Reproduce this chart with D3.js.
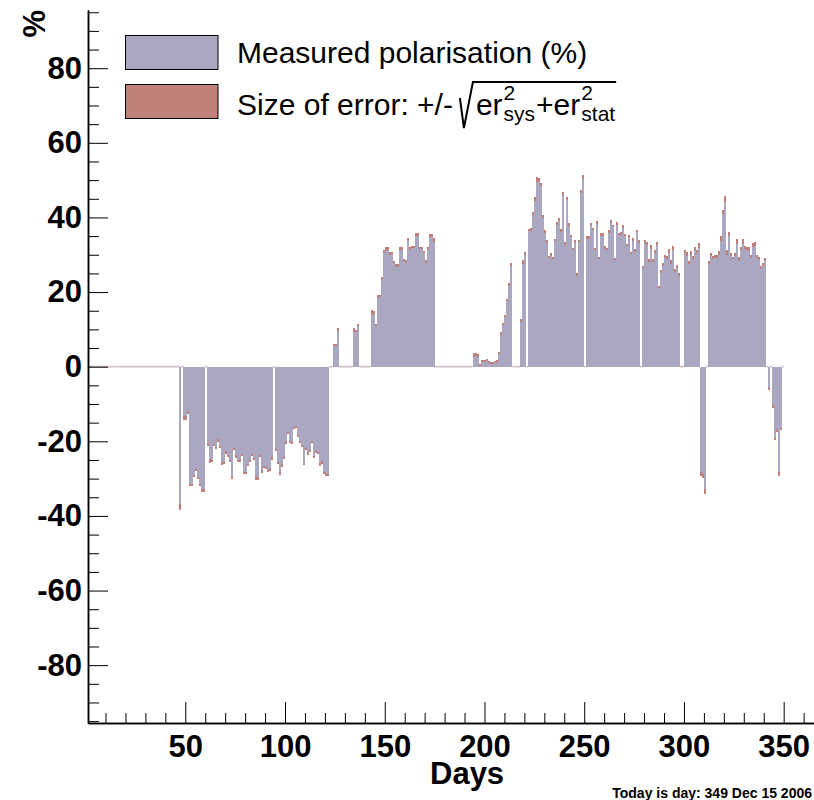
<!DOCTYPE html>
<html><head><meta charset="utf-8">
<script src="https://cdn.jsdelivr.net/npm/d3@7"></script>
<style>
body{margin:0;background:#fff}
svg{display:block}
text{font-family:"Liberation Sans",Arial,Helvetica,sans-serif}
</style>
</head><body>
<svg id="c" width="814" height="800"></svg>
<script>
// ---------- data (one value per day, starting at day 1) ----------
const firstDay = 1;
const polarisation = [
0,0,0,0,0,0,0,0,0,0,0,0,0,0,0,0,0,0,0,0,0,0,0,0,0,0,0,0,0,0,0,0,0,0,0,0,0,0,0,0,0,0,0,0,0,0,
-37.6,0,
-13.7,-13.7,-12.3,-31.7,-31.7,-29.3,-27.6,-29.8,-31.7,-33.3,-33.3,
0,
-20.9,-25.3,-25.3,-21,-21.8,-19.8,-21.5,-25.9,-25.9,-23,-23.9,-25.2,-29.7,-22,-24.1,-25.2,-25.2,-23.7,-28.4,-28.4,-26.3,-25.2,-23.6,-24.7,-30,-30,-23.9,-28.1,-26.9,-27.1,-28,-27.5,-24.6,
0,
-22.3,-25.9,-28.6,-26.5,-24.5,-20.3,-17.8,-20.1,-20.5,-16.5,-16.1,-18.6,-20.1,-21.2,-26,-22,-23.2,-22.5,-20.1,-24.3,-22.8,-23.2,-26.2,-25.7,-28.4,-28.9,-29,
0,0,
5.8,5.8,9.9,
0,0,0,0,0,0,0,
9.8,9.5,11.2,
0,0,0,0,0,0,
14.6,14.6,11.2,18.9,18.9,23.8,30.8,31.6,31.6,30.4,30.4,28.1,27.1,27.1,31.7,31.7,28.6,28.2,34.2,31.6,32.1,32.1,35.4,35.4,31.8,31.8,30.7,28.2,31.7,35.2,35.2,34.0,
0,0,0,0,0,0,0,0,0,0,0,0,0,0,0,0,0,0,0,
3.1,3.3,3.0,0.5,1.5,1.5,1.5,1.8,1.2,1.1,1.1,1.4,1.4,
3.7,8.9,11.5,13.6,17.9,22.0,27.4,
0,0,0,0,
12.4,28,30.4,
0,
36.6,36.9,41.1,44.9,50.1,50.1,48.9,40.2,36.3,33.5,29.3,30.1,29.2,33.9,38.3,39.5,36.5,46.3,33,45.2,38.1,35,31.6,33.5,24.7,33.6,47.0,50.9,
0,
34.6,34.6,38.3,36.9,31.6,38.6,29.2,35.4,35.4,31.9,31.6,36.3,38.9,37.7,28.8,38.3,35.5,35.7,37.6,35.2,32.6,35.0,30.5,34.1,31.2,36.3,33.5,
0,
26.8,33.6,33.1,28.4,32.1,28.5,30.8,33,21.3,25.5,27.4,29.6,29.2,31.0,28.1,31.8,25.8,26.8,24.7,
0,0,
30.8,30.2,28,30.4,29.2,31.6,31.0,32.5,
-28.8,-29.3,-33.4,
0,
27.9,30.0,29.2,29.5,29.5,30.4,34.3,41.4,44.9,30.6,35.6,30.0,29.2,30,33.5,28.9,31.6,33.5,32.0,31.7,31.6,29.5,32.5,32.9,29.5,29.0,26.5,27.4,28.6,
0,
-6.0,
0,
-10.7,-19.3,-17.1,-28.7,-16.7,
0
];
const errors = [
0,0,0,0,0,0,0,0,0,0,0,0,0,0,0,0,0,0,0,0,0,0,0,0,0,0,0,0,0,0,0,0,0,0,0,0,0,0,0,0,0,0,0,0,0,0,
0.8,0,
0.55,0.5,0.3,0.3,0.3,0.3,0.3,0.3,0.35,0.4,0.4,
0,
0.35,0.45,0.3,0.3,0.35,0.3,0.3,0.35,0.3,0.3,0.3,0.3,0.3,0.3,0.3,0.3,0.35,0.3,0.3,0.3,0.3,0.3,0.3,0.3,0.35,0.3,0.3,0.35,0.3,0.3,0.3,0.35,0.3,
0,
0.3,0.3,0.35,0.3,0.3,0.3,0.3,0.3,0.35,0.3,0.3,0.3,0.3,0.3,0.3,0.3,0.35,0.3,0.3,0.3,0.3,0.3,0.35,0.3,0.3,0.35,0.35,
0,0,
0.25,0.25,0.45,
0,0,0,0,0,0,0,
0.45,0.3,0.35,
0,0,0,0,0,0,
0.65,0.4,0.3,0.4,0.3,0.3,0.4,0.5,0.4,0.35,0.3,0.35,0.3,0.3,0.4,0.35,0.3,0.3,0.35,0.35,0.3,0.3,0.4,0.35,0.3,0.3,0.3,0.3,0.4,0.45,0.45,0.45,
0,0,0,0,0,0,0,0,0,0,0,0,0,0,0,0,0,0,0,
0.6,0.4,0.35,0.2,0.3,0.3,0.35,0.3,0.25,0.25,0.25,0.25,0.3,
0.35,0.3,0.3,0.3,0.3,0.35,0.4,
0,0,0,0,
0.45,0.5,0.4,
0,
0.35,0.4,0.35,0.45,0.65,0.6,0.4,0.4,0.35,0.35,0.3,0.35,0.3,0.3,0.35,0.4,0.3,0.4,0.3,0.4,0.45,0.35,0.3,0.35,0.3,0.3,0.45,0.55,
0,
0.3,0.35,0.3,0.35,0.3,0.4,0.3,0.35,0.3,0.35,0.3,0.35,0.4,0.35,0.3,0.4,0.3,0.3,0.3,0.3,0.3,0.4,0.35,0.3,0.35,0.3,0.35,
0,
0.3,0.35,0.4,0.45,0.55,0.45,0.45,0.45,0.3,0.45,0.45,0.45,0.4,0.45,0.45,0.45,0.35,0.35,0.35,
0,0,
0.45,0.45,0.4,0.5,0.4,0.45,0.4,0.6,
0.5,0.5,0.7,
0,
0.5,0.45,0.4,0.5,0.5,0.5,0.65,0.6,0.8,0.6,0.5,0.45,0.3,0.45,0.6,0.5,0.45,0.6,0.45,0.5,0.55,0.5,0.55,0.5,0.5,0.5,0.45,0.45,0.4,
0,
0.25,
0,
0.3,0.3,0.3,0.6,0.3,
0
];
const xMajorTicks = [50,100,150,200,250,300,350];
const xMinorTicks = [10,20,30,40,60,70,80,90,110,120,130,140,160,170,180,190,210,220,230,240,260,270,280,290,310,320,330,340,360];
const yMajorTicks = [-80,-60,-40,-20,0,20,40,60,80];
const yMinorTicks = [-95,-90,-85,-75,-70,-65,-55,-50,-45,-35,-30,-25,-15,-10,-5,5,10,15,25,30,35,45,50,55,65,70,75,85,90,95];
const legendLabels = ["Measured polarisation (%)", "Size of error: +/-"];
const xTitle = "Days", yTitle = "%";
const footer = "Today is day: 349 Dec 15 2006";

// ---------- drawing ----------
const purple = "#aaa7c0", red = "#c0807a", zeroCol = "#cdbac6";
const svg = d3.select("#c");
const x = d3.scaleLinear().domain([1.22, 365.2]).range([88, 814]);
const y = d3.scaleLinear().domain([-95.5, 95.6]).range([723, 10]);

const bins = polarisation.map((v, i) => ({day: firstDay + i, v, e: errors[i]}));

svg.append("g").selectAll("rect").data(bins.filter(b => b.v === 0)).join("rect")
  .attr("x", b => x(b.day)).attr("width", b => x(b.day + 1) - x(b.day))
  .attr("y", y(0) - 0.9).attr("height", 1.7).attr("fill", zeroCol);

const gb = svg.append("g").attr("shape-rendering", "crispEdges");
gb.selectAll("rect.b").data(bins.filter(b => b.v !== 0)).join("rect").attr("class", "b")
  .attr("x", b => x(b.day)).attr("width", b => x(b.day + 1) - x(b.day))
  .attr("y", b => y(Math.max(0, b.v))).attr("height", b => Math.abs(y(b.v) - y(0)))
  .attr("fill", purple);
gb.selectAll("rect.e").data(bins.filter(b => b.v !== 0)).join("rect").attr("class", "e")
  .attr("x", b => x(b.day)).attr("width", b => x(b.day + 1) - x(b.day))
  .attr("y", b => y(b.v + b.e)).attr("height", b => y(b.v - b.e) - y(b.v + b.e))
  .attr("fill", red);

// axes
const fmt = d => String(d);
const gx = svg.append("g").attr("transform", "translate(0,723)");
gx.call(d3.axisBottom(x).tickValues(xMinorTicks).tickSize(-10).tickSizeOuter(0).tickFormat(""));
const gx2 = svg.append("g").attr("transform", "translate(0,723)");
gx2.call(d3.axisBottom(x).tickValues(xMajorTicks).tickSize(-21).tickSizeOuter(0).tickPadding(12).tickFormat(fmt));
const gy = svg.append("g").attr("transform", "translate(88,0)");
gy.call(d3.axisLeft(y).tickValues(yMinorTicks).tickSize(-11).tickSizeOuter(0).tickFormat(""));
const gy2 = svg.append("g").attr("transform", "translate(88,0)");
gy2.call(d3.axisLeft(y).tickValues(yMajorTicks).tickSize(-20).tickSizeOuter(0).tickPadding(6).tickFormat(fmt));
svg.selectAll(".domain").attr("stroke", "#000").attr("stroke-width", 1.5);
svg.selectAll(".tick line").attr("stroke", "#000").attr("stroke-width", 1);
[gx2, gy2].forEach(g => g.selectAll("text")
  .attr("font-family", "'Liberation Sans',Arial,sans-serif")
  .attr("font-size", 31).attr("font-weight", "bold").attr("fill", "#000"));

// titles
svg.append("text").attr("x", 430).attr("y", 784).attr("font-size", 31).attr("font-weight", "bold").text(xTitle);
svg.append("text").attr("transform", "translate(45,10) rotate(-90)").attr("text-anchor", "end")
  .attr("font-size", 31).attr("font-weight", "bold").text(yTitle);
svg.append("text").attr("x", 812).attr("y", 798).attr("text-anchor", "end")
  .attr("font-size", 14).attr("font-weight", "bold").text(footer);

// legend
const legend = svg.append("g");
legend.append("rect").attr("x", 125.5).attr("y", 35.5).attr("width", 92.5).attr("height", 34)
  .attr("fill", purple).attr("stroke", "#000").attr("stroke-width", 1);
legend.append("rect").attr("x", 125.5).attr("y", 84.5).attr("width", 92.5).attr("height", 34)
  .attr("fill", red).attr("stroke", "#000").attr("stroke-width", 1);
const F = 30, f = 21;
legend.append("text").attr("x", 237).attr("y", 63).attr("font-size", F).text(legendLabels[0]);
const t2 = legend.append("text").attr("x", 237).attr("y", 115).attr("font-size", F).text(legendLabels[1]);
const cx = 237 + t2.node().getComputedTextLength();
const rx = cx + 7;
const piece = (txt, px, py, size) => {
  const t = legend.append("text").attr("x", px).attr("y", py).attr("font-size", size).text(txt);
  return t.node().getComputedTextLength();
};
let ix = rx + 16;
ix += piece("er", ix, 115, F) + 1;
const w1 = piece("2", ix, 100, f);
const w2 = piece("sys", ix, 121, f);
ix += Math.max(w1, w2) + 1;
ix += piece("+er", ix, 115, F) + 1;
const w3 = piece("2", ix, 100, f);
const w4 = piece("stat", ix, 121, f);
ix += Math.max(w3, w4) + 1;
legend.append("path")
  .attr("d", `M${rx},${98}L${rx + 4},${128}L${rx + 13},${82}L${ix},${82}`)
  .attr("fill", "none").attr("stroke", "#000").attr("stroke-width", 2);
</script>
</body></html>
